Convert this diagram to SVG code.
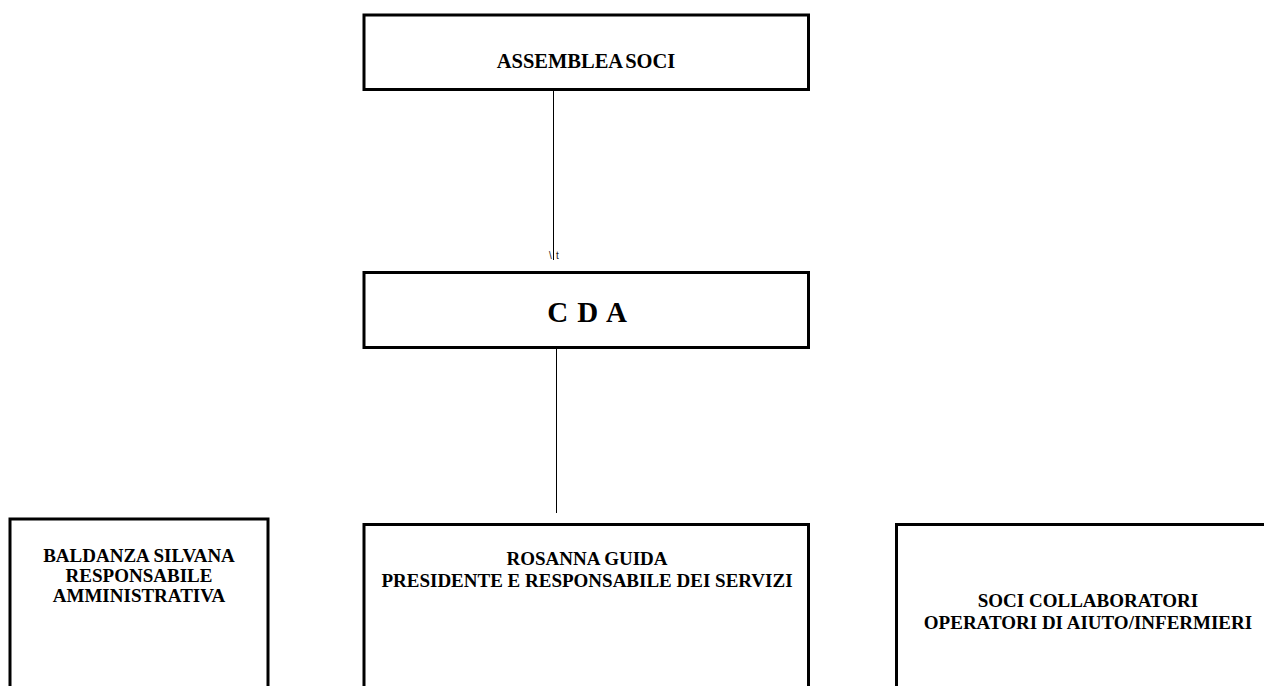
<svg xmlns="http://www.w3.org/2000/svg" width="1264" height="686" viewBox="0 0 1264 686">
<style>
  .box { fill: #ffffff; stroke: #000000; stroke-width: 3; }
  .lbl { font-family: "Liberation Serif", "Times New Roman", serif; font-weight: bold; font-size: 19px; fill: #000000; text-anchor: middle; }
  .big { font-size: 29px; }
  .title { font-size: 20.5px; word-spacing: -2px; }
  .conn { stroke: #000000; stroke-width: 1; fill: none; }
  .tiny { font-family: "Liberation Sans", Arial, sans-serif; font-size: 10px; fill: #222222; }
</style>
<rect x="0" y="0" width="1264" height="686" fill="#ffffff"/>
<g id="connectors">
  <line class="conn" x1="553.5" y1="91" x2="553.5" y2="260"/>
  <text class="tiny" x="549 556" y="259">\t</text>
  <line class="conn" x1="556.5" y1="349" x2="556.5" y2="513"/>
</g>
<g id="assemblea">
  <rect class="box" x="364" y="15" width="444.5" height="74.5"/>
  <text class="lbl title" x="586" y="68">ASSEMBLEA SOCI</text>
</g>
<g id="cda">
  <rect class="box" x="364" y="272.5" width="444.5" height="75"/>
  <text class="lbl big" x="587.5" y="321.5" letter-spacing="1">C D A</text>
</g>
<g id="baldanza">
  <rect class="box" x="10" y="519" width="258" height="200"/>
  <text class="lbl" x="139" y="561.5">BALDANZA SILVANA</text>
  <text class="lbl" x="139" y="581.5">RESPONSABILE</text>
  <text class="lbl" x="139" y="601.5">AMMINISTRATIVA</text>
</g>
<g id="guida">
  <rect class="box" x="364" y="524.5" width="444.5" height="200"/>
  <text class="lbl" x="587" y="565">ROSANNA GUIDA</text>
  <text class="lbl" x="587" y="587">PRESIDENTE E RESPONSABILE DEI SERVIZI</text>
</g>
<g id="soci">
  <rect class="box" x="896.5" y="524.5" width="400" height="200"/>
  <text class="lbl" x="1088" y="607">SOCI COLLABORATORI</text>
  <text class="lbl" x="1088" y="629">OPERATORI DI AIUTO/INFERMIERI</text>
</g>
</svg>
